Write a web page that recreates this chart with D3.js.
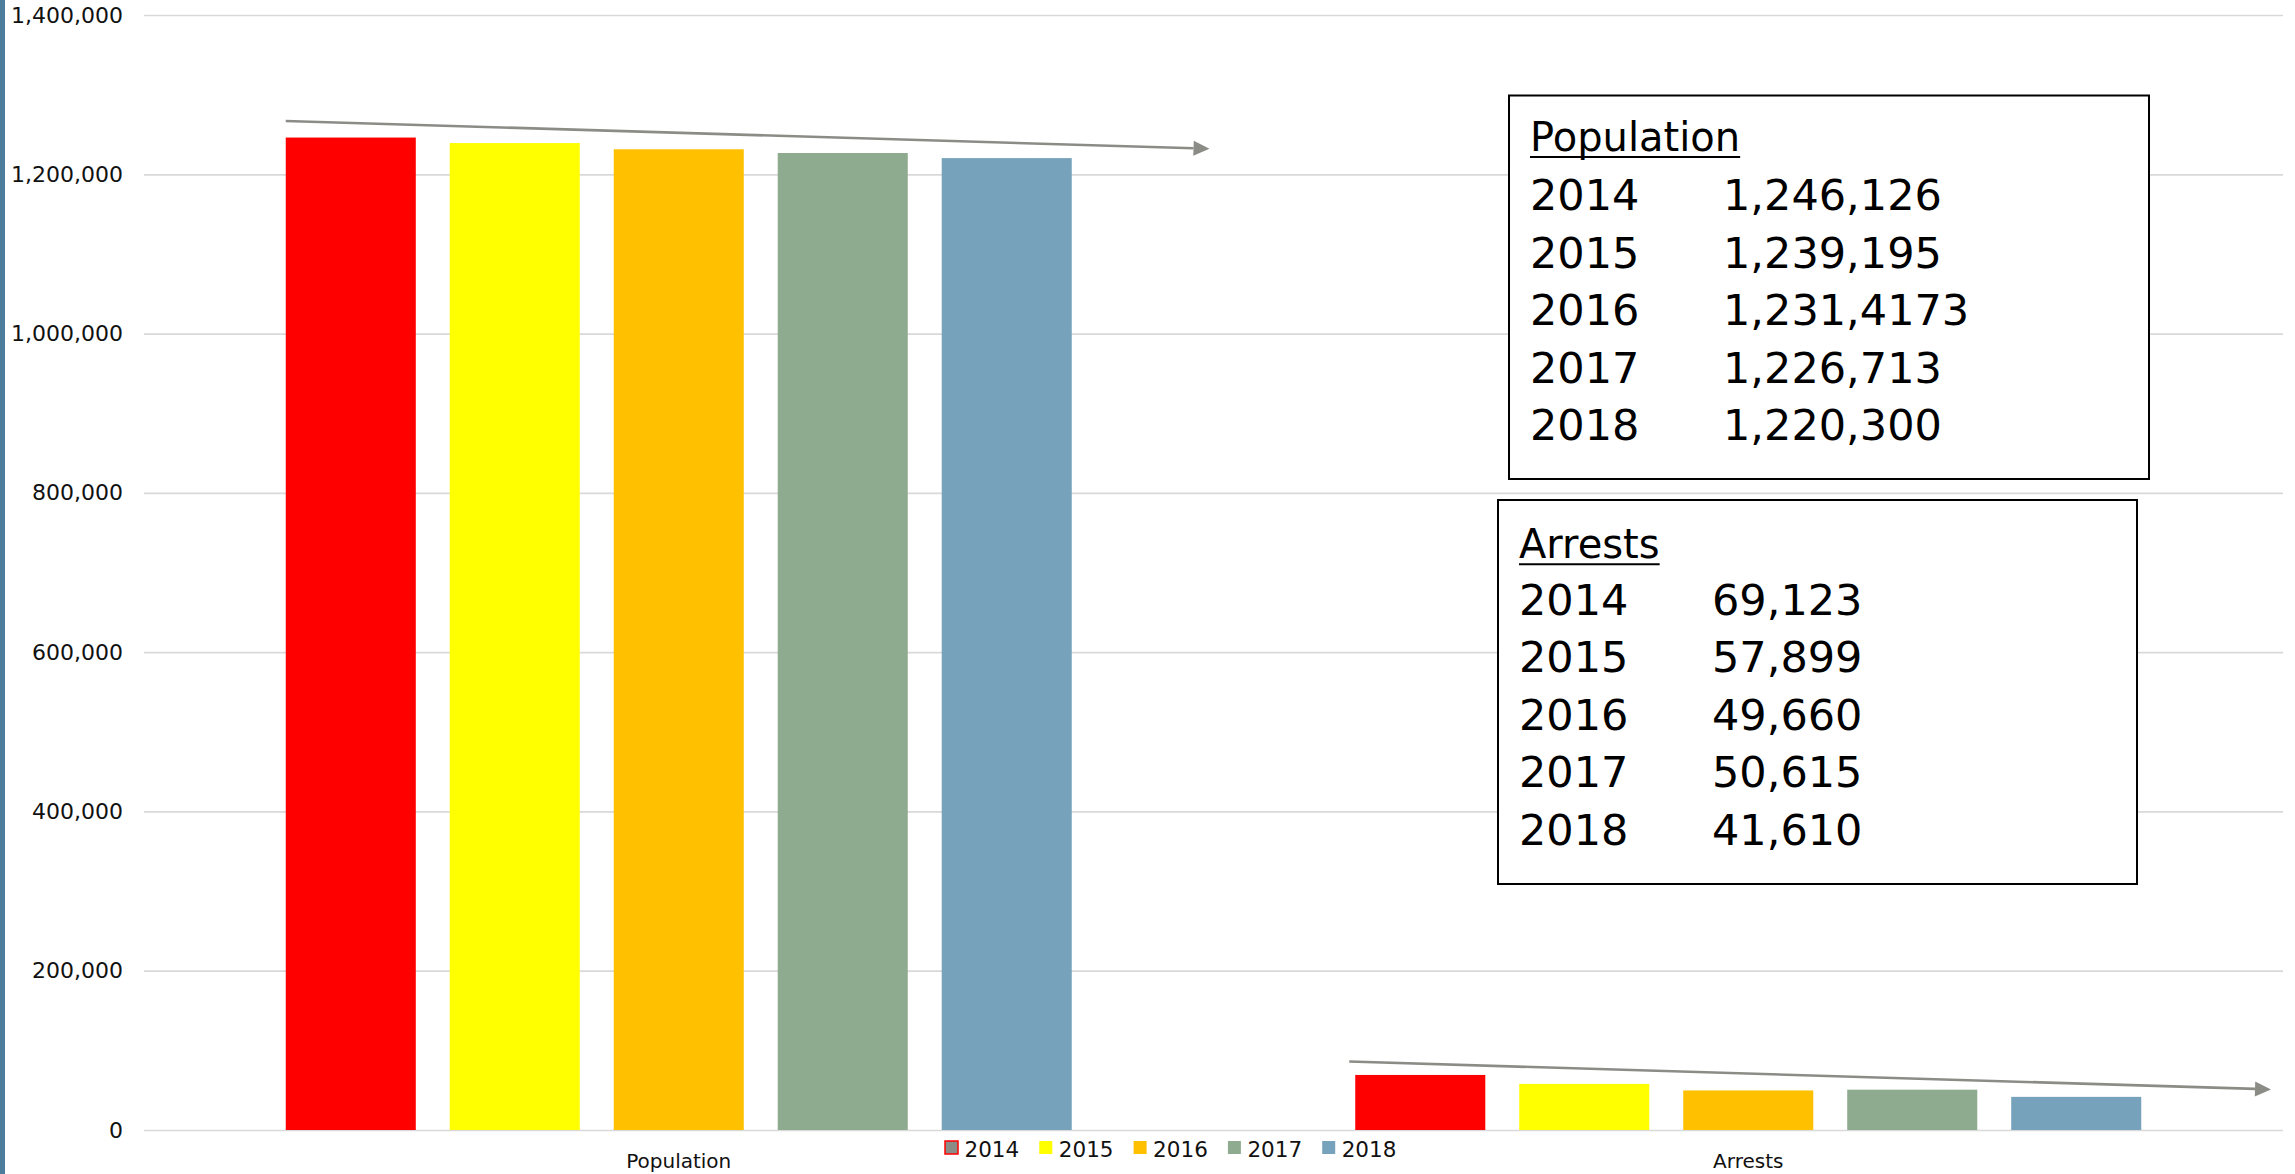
<!DOCTYPE html>
<html>
<head>
<meta charset="utf-8">
<script src="https://cdn.jsdelivr.net/npm/d3@7"></script>
<style>
  html, body { margin: 0; padding: 0; background: #fff; }
  svg { display: block; font-family: "DejaVu Sans", sans-serif; }
</style>
</head>
<body>
<div id="chart"></div>
<script>
// data
const categories = ["Population", "Arrests"];
const years = ["2014", "2015", "2016", "2017", "2018"];
const population = [1246126, 1239195, 1231417, 1226713, 1220300];
const arrests = [69123, 57899, 49660, 50615, 41610];
const populationText = ["1,246,126", "1,239,195", "1,231,4173", "1,226,713", "1,220,300"];
const arrestsText = ["69,123", "57,899", "49,660", "50,615", "41,610"];
const yTicks = [0, 200000, 400000, 600000, 800000, 1000000, 1200000, 1400000];
const colors = ["#ff0000", "#ffff00", "#ffc000", "#8fab8f", "#77a2bc"];
// trend arrows: value at start and at tip
const trendFrom = [1267000, 86000];
const trendTo = [1232000, 51000];

const W = 2295, H = 1174;
const left = 144, right = 2283, zeroY = 1130, topY = 15;

const svg = d3.select("#chart").append("svg")
  .attr("width", W)
  .attr("height", H);

svg.append("rect").attr("width", W).attr("height", H).attr("fill", "#fff");

// blue strip on the left edge
svg.append("rect")
  .attr("x", 0).attr("y", 0)
  .attr("width", 5).attr("height", H)
  .attr("fill", "#4d7d9c");

const y = d3.scaleLinear().domain([0, 1400000]).range([zeroY, topY]);
const x0 = d3.scaleBand().domain(categories).range([left, right]);
const groupW = 786;
const x1 = d3.scaleBand().domain(years)
  .range([(x0.bandwidth() - groupW) / 2, (x0.bandwidth() + groupW) / 2])
  .paddingInner(0.207);

// gridlines + tick labels
const yAxis = d3.axisLeft(y)
  .tickValues(yTicks)
  .tickFormat(d3.format(","))
  .tickSize(-(right - left))
  .tickPadding(21);

const gAxis = svg.append("g")
  .attr("transform", `translate(${left},0)`)
  .call(yAxis);
gAxis.select(".domain").remove();
gAxis.selectAll(".tick line").attr("stroke", "#d9d9d9").attr("stroke-width", 1.7);
gAxis.selectAll(".tick text")
  .attr("fill", "#111")
  .style("font-family", "DejaVu Sans, sans-serif")
  .style("font-size", "22px");

// bars
const series = [population, arrests];
categories.forEach((cat, ci) => {
  const g = svg.append("g").attr("transform", `translate(${x0(cat)},0)`);
  g.selectAll("rect")
    .data(series[ci])
    .join("rect")
    .attr("x", (d, i) => x1(years[i]))
    .attr("y", d => y(d))
    .attr("width", x1.bandwidth())
    .attr("height", d => zeroY - y(d))
    .attr("fill", (d, i) => colors[i]);

  // category label
  svg.append("text")
    .attr("x", x0(cat) + x0.bandwidth() / 2)
    .attr("y", 1168)
    .attr("text-anchor", "middle")
    .style("font-size", "20px")
    .attr("fill", "#111")
    .text(cat);
});

// trend arrows
const arrowColor = "#8c8c87";
categories.forEach((cat, ci) => {
  const xs = x0(cat) + x1.range()[0] - (ci === 1 ? 6 : 0);
  const xe = x0(cat) + x0.bandwidth() - (ci === 1 ? 12 : 4);
  const ys = y(trendFrom[ci]), ye = y(trendTo[ci]);
  const ang = Math.atan2(ye - ys, xe - xs);
  const headL = 16, headW = 7.5;
  const bx = xe - headL * Math.cos(ang), by = ye - headL * Math.sin(ang);
  svg.append("line")
    .attr("x1", xs).attr("y1", ys)
    .attr("x2", bx).attr("y2", by)
    .attr("stroke", arrowColor)
    .attr("stroke-width", 2.6);
  const pts = [
    [xe, ye],
    [bx - headW * Math.sin(ang), by + headW * Math.cos(ang)],
    [bx + headW * Math.sin(ang), by - headW * Math.cos(ang)]
  ];
  svg.append("polygon")
    .attr("points", pts.map(p => p.join(",")).join(" "))
    .attr("fill", arrowColor);
});

// legend
const legend = svg.append("g");
years.forEach((yr, i) => {
  const lx = 945 + i * 94.3;
  legend.append("rect")
    .attr("x", lx).attr("y", 1141)
    .attr("width", 13).attr("height", 13)
    .attr("fill", i === 0 ? "#8c8c87" : colors[i])
    .attr("stroke", i === 0 ? "#ff0000" : "none")
    .attr("stroke-width", i === 0 ? 1.5 : 0);
  legend.append("text")
    .attr("x", lx + 19.5)
    .attr("y", 1157.3)
    .style("font-size", "21.5px")
    .attr("fill", "#111")
    .text(yr);
});

// value boxes
function drawBox(bx, by, bw, bh, title, titleOff, rows, vals) {
  const g = svg.append("g");
  g.append("rect")
    .attr("x", bx).attr("y", by)
    .attr("width", bw).attr("height", bh)
    .attr("fill", "#fff")
    .attr("stroke", "#000")
    .attr("stroke-width", 2);
  const t = g.append("text")
    .attr("x", bx + 21)
    .attr("y", by + titleOff)
    .style("font-size", "40px")
    .attr("fill", "#000")
    .text(title);
  const tw = t.node().getComputedTextLength();
  g.append("line")
    .attr("x1", bx + 21).attr("x2", bx + 21 + tw)
    .attr("y1", by + titleOff + 6).attr("y2", by + titleOff + 6)
    .attr("stroke", "#000").attr("stroke-width", 2);
  rows.forEach((r, i) => {
    const ry = by + 114.5 + i * 57.6;
    g.append("text")
      .attr("x", bx + 21).attr("y", ry)
      .style("font-size", "43px")
      .attr("fill", "#000")
      .text(r);
    g.append("text")
      .attr("x", bx + 214).attr("y", ry)
      .style("font-size", "43px")
      .attr("fill", "#000")
      .text(vals[i]);
  });
}

drawBox(1509, 95.5, 640, 383.5, "Population", 55.5, years, populationText);
drawBox(1498, 500, 639, 384, "Arrests", 58.3, years, arrestsText);
</script>
</body>
</html>
